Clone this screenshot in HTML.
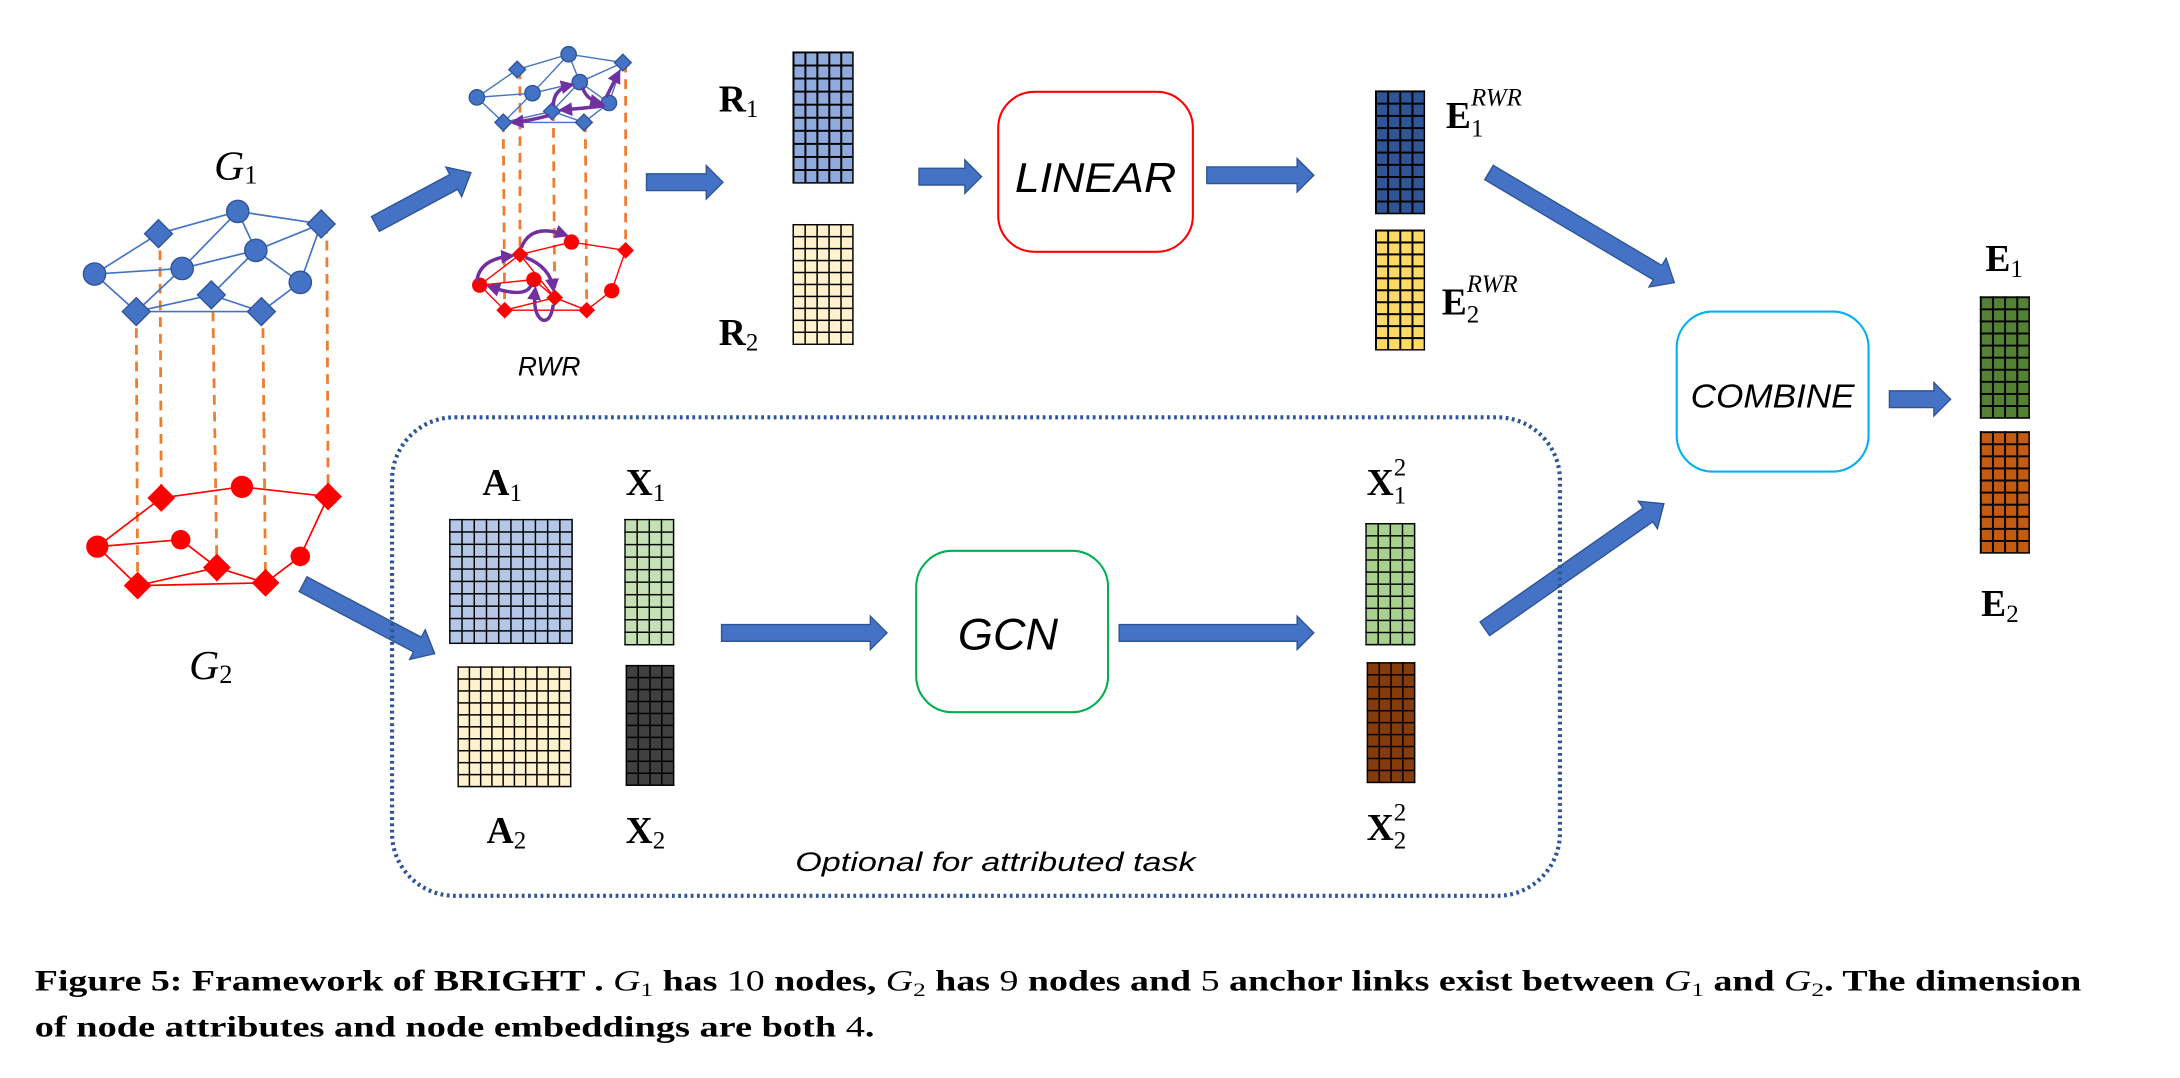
<!DOCTYPE html>
<html><head><meta charset="utf-8">
<style>
html,body{margin:0;padding:0;background:#fff;}
body{width:2180px;height:1078px;overflow:hidden;position:relative;}
#c{position:absolute;left:0;top:0;width:1568px;height:775px;transform:scale(1.3903,1.391);transform-origin:0 0;}
svg{position:absolute;left:0;top:0;}
.g{position:absolute;box-sizing:border-box;border-right:1.5px solid #000;border-bottom:1.5px solid #000;}
</style></head><body>
<div id="c">
<svg width="1568" height="775" viewBox="0 0 1568 775" font-family="Liberation Serif, serif">
<defs>
<marker id="pm" markerWidth="4" markerHeight="4" refX="3" refY="2" orient="auto" markerUnits="strokeWidth"><path d="M0,0 L4,2 L0,4 z" fill="#7030A0"/></marker>
</defs>
<g stroke="#ED7D31" stroke-width="2" stroke-dasharray="7,5">
<line x1="98" y1="224" x2="99" y2="421"/><line x1="115" y1="168" x2="116" y2="358"/><line x1="153" y1="212" x2="156" y2="408"/><line x1="189" y1="224" x2="191" y2="419"/><line x1="235" y1="161" x2="236" y2="357"/>
<line x1="362" y1="88" x2="363" y2="223"/><line x1="374" y1="50" x2="374" y2="183"/><line x1="398" y1="80" x2="399" y2="214"/><line x1="421" y1="88" x2="422" y2="223"/><line x1="450" y1="45" x2="450" y2="180"/>
</g>
<g stroke="#4472C4" stroke-width="1.2">
<line x1="114" y1="168" x2="171" y2="152"/><line x1="171" y1="152" x2="231" y2="161"/><line x1="68" y1="197" x2="114" y2="168"/><line x1="68" y1="197" x2="131" y2="193"/><line x1="171" y1="152" x2="131" y2="193"/><line x1="171" y1="152" x2="184" y2="180"/><line x1="231" y1="161" x2="184" y2="180"/><line x1="231" y1="161" x2="216" y2="203"/><line x1="131" y1="193" x2="184" y2="180"/><line x1="184" y1="180" x2="152" y2="212"/><line x1="184" y1="180" x2="216" y2="203"/><line x1="131" y1="193" x2="98" y2="224"/><line x1="68" y1="197" x2="98" y2="224"/><line x1="98" y1="224" x2="152" y2="212"/><line x1="152" y1="212" x2="188" y2="224"/><line x1="216" y1="203" x2="188" y2="224"/><line x1="98" y1="224" x2="188" y2="224"/>
</g>
<g fill="#4472C4" stroke="#2F5597" stroke-width="1">
<circle cx="171" cy="152" r="8"/><circle cx="184" cy="180" r="8"/><circle cx="131" cy="193" r="8"/><circle cx="68" cy="197" r="8"/><circle cx="216" cy="203" r="8"/>
<path d="M231,151 l10,10 l-10,10 l-10,-10z"/><path d="M114,158 l10,10 l-10,10 l-10,-10z"/><path d="M152,202 l10,10 l-10,10 l-10,-10z"/><path d="M98,214 l10,10 l-10,10 l-10,-10z"/><path d="M188,214 l10,10 l-10,10 l-10,-10z"/>
</g>
<g stroke="#FF0000" stroke-width="1.2">
<line x1="116" y1="358" x2="174" y2="350"/><line x1="174" y1="350" x2="236" y2="357"/><line x1="70" y1="393" x2="116" y2="358"/><line x1="70" y1="393" x2="130" y2="388"/><line x1="130" y1="388" x2="156" y2="408"/><line x1="236" y1="357" x2="216" y2="400"/><line x1="70" y1="393" x2="99" y2="421"/><line x1="99" y1="421" x2="156" y2="408"/><line x1="156" y1="408" x2="191" y2="419"/><line x1="216" y1="400" x2="191" y2="419"/><line x1="99" y1="421" x2="191" y2="419"/>
</g>
<g fill="#FF0000">
<circle cx="174" cy="350" r="8"/><circle cx="130" cy="388" r="7"/><circle cx="70" cy="393" r="8"/><circle cx="216" cy="400" r="7"/>
<path d="M116,348 l10,10 l-10,10 l-10,-10z"/><path d="M236,347 l10,10 l-10,10 l-10,-10z"/><path d="M156,398 l10,10 l-10,10 l-10,-10z"/><path d="M99,411 l10,10 l-10,10 l-10,-10z"/><path d="M191,409 l10,10 l-10,10 l-10,-10z"/>
</g>
<g stroke="#4472C4" stroke-width="1">
<line x1="372" y1="50" x2="409" y2="39"/><line x1="409" y1="39" x2="448" y2="45"/><line x1="343" y1="70" x2="372" y2="50"/><line x1="343" y1="70" x2="383" y2="67"/><line x1="409" y1="39" x2="383" y2="67"/><line x1="409" y1="39" x2="417" y2="59"/><line x1="448" y1="45" x2="417" y2="59"/><line x1="448" y1="45" x2="438" y2="74"/><line x1="383" y1="67" x2="417" y2="59"/><line x1="417" y1="59" x2="397" y2="80"/><line x1="417" y1="59" x2="438" y2="74"/><line x1="383" y1="67" x2="362" y2="88"/><line x1="343" y1="70" x2="362" y2="88"/><line x1="362" y1="88" x2="397" y2="80"/><line x1="397" y1="80" x2="420" y2="88"/><line x1="438" y1="74" x2="420" y2="88"/><line x1="362" y1="88" x2="420" y2="88"/>
</g>
<g fill="#4472C4" stroke="#2F5597" stroke-width="1">
<circle cx="409" cy="39" r="5.5"/><circle cx="417" cy="59" r="5.5"/><circle cx="383" cy="67" r="5.5"/><circle cx="343" cy="70" r="5.5"/><circle cx="438" cy="74" r="5.5"/>
<path d="M448,39 l6,6 l-6,6 l-6,-6z"/><path d="M372,44 l6,6 l-6,6 l-6,-6z"/><path d="M397,74 l6,6 l-6,6 l-6,-6z"/><path d="M362,82 l6,6 l-6,6 l-6,-6z"/><path d="M420,82 l6,6 l-6,6 l-6,-6z"/>
</g>
<g stroke="#FF0000" stroke-width="1">
<line x1="374" y1="183" x2="411" y2="174"/><line x1="411" y1="174" x2="450" y2="180"/><line x1="345" y1="205" x2="374" y2="183"/><line x1="345" y1="205" x2="384" y2="201"/><line x1="384" y1="201" x2="399" y2="214"/><line x1="374" y1="183" x2="399" y2="214"/><line x1="450" y1="180" x2="440" y2="209"/><line x1="345" y1="205" x2="363" y2="223"/><line x1="363" y1="223" x2="399" y2="214"/><line x1="399" y1="214" x2="422" y2="223"/><line x1="440" y1="209" x2="422" y2="223"/><line x1="363" y1="223" x2="422" y2="223"/>
</g>
<g fill="#FF0000">
<circle cx="411" cy="174" r="5.5"/><circle cx="384" cy="201" r="5.5"/><circle cx="345" cy="205" r="5.5"/><circle cx="440" cy="209" r="5.5"/>
<path d="M450,174 l6,6 l-6,6 l-6,-6z"/><path d="M374,177 l6,6 l-6,6 l-6,-6z"/><path d="M399,208 l6,6 l-6,6 l-6,-6z"/><path d="M363,217 l6,6 l-6,6 l-6,-6z"/><path d="M422,217 l6,6 l-6,6 l-6,-6z"/>
</g>
<g fill="none" stroke="#7030A0" stroke-width="2.5" marker-end="url(#pm)">
<path d="M436,70 L445,52"/>
<path d="M435,76 Q418,78 404,79"/>
<path d="M398,76 Q398,64 411,61"/>
<path d="M419,63 Q422,72 432,74"/>
<path d="M395,83 Q380,87 369,88"/>
<path d="M375,178 Q382,160 407,169"/>
<path d="M343,202 Q345,186 368,184"/>
<path d="M378,185 Q396,192 398,208"/>
<path d="M382,205 Q378,215 352,206"/>
<path d="M398,219 Q396,232 390,230 Q383,226 385,208"/>
</g>
<g fill="#4472C4" stroke="#2F5597" stroke-width="1">
<g transform="translate(270,161) rotate(-28.2)"><path d="M0,-6 H64 V-12 L78,0 L64,12 V6 H0z"/></g>
<g transform="translate(465,131)"><path d="M0,-6 H43 V-12 L55,0 L43,12 V6 H0z"/></g>
<g transform="translate(661,127)"><path d="M0,-6 H33 V-12 L45,0 L33,12 V6 H0z"/></g>
<g transform="translate(868,126)"><path d="M0,-6 H65 V-12 L77,0 L65,12 V6 H0z"/></g>
<g transform="translate(1071,124) rotate(30.7)"><path d="M0,-6 H141 V-12 L155,0 L141,12 V6 H0z"/></g>
<g transform="translate(1359,287)"><path d="M0,-6 H32 V-12 L44,0 L32,12 V6 H0z"/></g>
<g transform="translate(218,420) rotate(27.8)"><path d="M0,-6 H93 V-12 L107,0 L93,12 V6 H0z"/></g>
<g transform="translate(519,455)"><path d="M0,-6 H107 V-12 L119,0 L107,12 V6 H0z"/></g>
<g transform="translate(805,455)"><path d="M0,-6 H128 V-12 L140,0 L128,12 V6 H0z"/></g>
<g transform="translate(1068,452) rotate(-34.9)"><path d="M0,-6 H143 V-12 L157,0 L143,12 V6 H0z"/></g>
</g>
<rect x="718" y="66" width="140" height="115" rx="26" fill="none" stroke="#FF0000" stroke-width="1.5"/>
<rect x="1206" y="224" width="138" height="115" rx="26" fill="none" stroke="#00B0F0" stroke-width="1.5"/>
<rect x="659" y="396" width="138" height="116" rx="26" fill="none" stroke="#00B050" stroke-width="1.5"/>
<rect x="282" y="300" width="840" height="344" rx="45" fill="none" stroke="#2F5597" stroke-width="3" stroke-dasharray="2,2.5"/>
<g font-family="Liberation Sans, sans-serif" font-style="italic" fill="#000">
<text x="788" y="138" font-size="30" text-anchor="middle" textLength="116" lengthAdjust="spacingAndGlyphs">LINEAR</text>
<text x="1275" y="293" font-size="24" text-anchor="middle" textLength="118" lengthAdjust="spacingAndGlyphs">COMBINE</text>
<text x="725" y="467" font-size="32" text-anchor="middle" textLength="72" lengthAdjust="spacingAndGlyphs">GCN</text>
<text x="395" y="270" font-size="19" text-anchor="middle">RWR</text>
<text x="716" y="626" font-size="19" text-anchor="middle" textLength="288" lengthAdjust="spacingAndGlyphs">Optional for attributed task</text>
</g>
<g fill="#000" font-size="27">
<text x="154" y="129" font-style="italic" font-size="30">G<tspan font-style="normal" font-size="19" dy="3">1</tspan></text>
<text x="136" y="488" font-style="italic" font-size="30">G<tspan font-style="normal" font-size="19" dy="3">2</tspan></text>
<text x="517" y="80" font-weight="bold">R<tspan font-weight="normal" font-size="18" dy="4">1</tspan></text>
<text x="517" y="248" font-weight="bold">R<tspan font-weight="normal" font-size="18" dy="4">2</tspan></text>
<text x="1040" y="92" font-weight="bold">E<tspan font-weight="normal" font-size="18" dy="6">1</tspan><tspan font-weight="normal" font-style="italic" font-size="18" dx="-9" dy="-22">RWR</tspan></text>
<text x="1037" y="226" font-weight="bold">E<tspan font-weight="normal" font-size="18" dy="6">2</tspan><tspan font-weight="normal" font-style="italic" font-size="18" dx="-9" dy="-22">RWR</tspan></text>
<text x="1428" y="195" font-weight="bold">E<tspan font-weight="normal" font-size="18" dy="4">1</tspan></text>
<text x="1425" y="443" font-weight="bold">E<tspan font-weight="normal" font-size="18" dy="4">2</tspan></text>
<text x="347" y="356" font-weight="bold">A<tspan font-weight="normal" font-size="18" dy="4">1</tspan></text>
<text x="450" y="356" font-weight="bold">X<tspan font-weight="normal" font-size="18" dy="4">1</tspan></text>
<text x="350" y="606" font-weight="bold">A<tspan font-weight="normal" font-size="18" dy="4">2</tspan></text>
<text x="450" y="606" font-weight="bold">X<tspan font-weight="normal" font-size="18" dy="4">2</tspan></text>
<text x="983" y="356" font-weight="bold">X<tspan font-weight="normal" font-size="18" dy="6">1</tspan><tspan font-weight="normal" font-size="18" dx="-9" dy="-20">2</tspan></text>
<text x="983" y="604" font-weight="bold">X<tspan font-weight="normal" font-size="18" dy="6">2</tspan><tspan font-weight="normal" font-size="18" dx="-9" dy="-20">2</tspan></text>
</g>
<g fill="#000" font-weight="bold" font-size="21">
<text x="25" y="712" textLength="1472" lengthAdjust="spacingAndGlyphs">Figure 5: Framework of BRIGHT . <tspan font-style="italic" font-weight="normal">G</tspan><tspan font-weight="normal" font-size="14" dy="4">1</tspan><tspan dy="-4"> has </tspan><tspan font-weight="normal">10</tspan> nodes, <tspan font-style="italic" font-weight="normal">G</tspan><tspan font-weight="normal" font-size="14" dy="4">2</tspan><tspan dy="-4"> has </tspan><tspan font-weight="normal">9</tspan> nodes and <tspan font-weight="normal">5</tspan> anchor links exist between <tspan font-style="italic" font-weight="normal">G</tspan><tspan font-weight="normal" font-size="14" dy="4">1</tspan><tspan dy="-4"> and </tspan><tspan font-style="italic" font-weight="normal">G</tspan><tspan font-weight="normal" font-size="14" dy="4">2</tspan><tspan dy="-4">. The dimension</tspan></text>
<text x="25" y="745" textLength="604" lengthAdjust="spacingAndGlyphs">of node attributes and node embeddings are both <tspan font-weight="normal">4</tspan>.</text>
</g>
</svg>
<div class="g" style="left:570px;top:37px;width:44px;height:95px;background:linear-gradient(to right,#000 1.5px,transparent 1.5px) 0 0/20% 10%,linear-gradient(#000 1.5px,transparent 1.5px) 0 0/20% 10%,#8FAADC;"></div>
<div class="g" style="left:570px;top:161px;width:44px;height:87px;background:linear-gradient(to right,#000 1.2px,transparent 1.2px) 0 0/20% 10%,linear-gradient(#000 1.2px,transparent 1.2px) 0 0/20% 10%,#FFF2CC;"></div>
<div class="g" style="left:989px;top:65px;width:36px;height:89px;background:linear-gradient(to right,#000 1.5px,transparent 1.5px) 0 0/25% 10%,linear-gradient(#000 1.5px,transparent 1.5px) 0 0/25% 10%,#2F5597;"></div>
<div class="g" style="left:989px;top:165px;width:36px;height:87px;background:linear-gradient(to right,#000 1.5px,transparent 1.5px) 0 0/25% 10%,linear-gradient(#000 1.5px,transparent 1.5px) 0 0/25% 10%,#FFD966;"></div>
<div class="g" style="left:1424px;top:213px;width:36px;height:88px;background:linear-gradient(to right,#000 1.5px,transparent 1.5px) 0 0/25% 10%,linear-gradient(#000 1.5px,transparent 1.5px) 0 0/25% 10%,#548235;"></div>
<div class="g" style="left:1424px;top:310px;width:36px;height:88px;background:linear-gradient(to right,#000 1.5px,transparent 1.5px) 0 0/25% 10%,linear-gradient(#000 1.5px,transparent 1.5px) 0 0/25% 10%,#C55A11;"></div>
<div class="g" style="left:323px;top:373px;width:89px;height:90px;background:linear-gradient(to right,#000 1.2px,transparent 1.2px) 0 0/10% 10%,linear-gradient(#000 1.2px,transparent 1.2px) 0 0/10% 10%,#B4C7E7;"></div>
<div class="g" style="left:329px;top:479px;width:82px;height:87px;background:linear-gradient(to right,#000 1.2px,transparent 1.2px) 0 0/10% 10%,linear-gradient(#000 1.2px,transparent 1.2px) 0 0/10% 10%,#FFF2CC;"></div>
<div class="g" style="left:449px;top:373px;width:36px;height:91px;background:linear-gradient(to right,#000 1.2px,transparent 1.2px) 0 0/25% 10%,linear-gradient(#000 1.2px,transparent 1.2px) 0 0/25% 10%,#C5E0B4;"></div>
<div class="g" style="left:450px;top:478px;width:35px;height:87px;background:linear-gradient(to right,#000 1.2px,transparent 1.2px) 0 0/25% 10%,linear-gradient(#000 1.2px,transparent 1.2px) 0 0/25% 10%,#404040;"></div>
<div class="g" style="left:982px;top:376px;width:36px;height:88px;background:linear-gradient(to right,#000 1.2px,transparent 1.2px) 0 0/25% 10%,linear-gradient(#000 1.2px,transparent 1.2px) 0 0/25% 10%,#A9D18E;"></div>
<div class="g" style="left:983px;top:476px;width:35px;height:87px;background:linear-gradient(to right,#000 1.2px,transparent 1.2px) 0 0/25% 10%,linear-gradient(#000 1.2px,transparent 1.2px) 0 0/25% 10%,#843C0C;"></div>
</div>
</body></html>
